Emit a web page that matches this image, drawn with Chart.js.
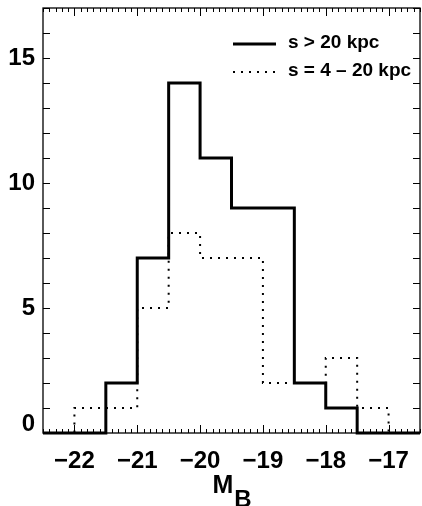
<!DOCTYPE html>
<html><head><meta charset="utf-8">
<script src="https://cdn.jsdelivr.net/npm/chart.js@4/dist/chart.umd.min.js"></script>
<style>html,body{margin:0;padding:0;background:#fff}#wrap{width:422px;height:506px;position:relative}</style>
</head><body><div id="wrap"><canvas id="c" width="422" height="506"></canvas></div>
<script>
// Histogram bin edges (M_B) and counts per bin
const binEdges = [-22.5,-22,-21.5,-21,-20.5,-20,-19.5,-19,-18.5,-18,-17.5,-17,-16.5];
const countsFar  = [0,0,2,7,14,11,9,9,2,1,0,0];   // s > 20 kpc
const countsNear = [0,1,1,5,8,7,7,2,2,3,1,0];     // s = 4 - 20 kpc
const seriesLabels = ['s > 20 kpc', 's = 4 \u2013 20 kpc'];
const xTickValues = [-22,-21,-20,-19,-18,-17];
const yTickValues = [0,5,10,15];
const xRange = [-22.5,-16.5];
const yRange = [0,17];
const xTitleMain = 'M', xTitleSub = 'B';

function stepPoints(counts){
  const pts = counts.map((c,i)=>({x:binEdges[i], y:c}));
  pts.push({x:binEdges[binEdges.length-1], y:counts[counts.length-1]});
  return pts;
}
const FONT = "'Liberation Sans', Arial, Helvetica, sans-serif";

const framePlugin = {
  id:'frame',
  afterDatasetsDraw(chart){
    const {ctx, chartArea:a, scales:{x,y}} = chart;
    ctx.save();
    ctx.strokeStyle = '#000';
    ctx.lineWidth = 1.3;
    ctx.strokeRect(a.left, a.top, a.right-a.left, a.bottom-a.top);
    ctx.lineWidth = 1;
    ctx.beginPath();
    // x minor/major ticks (0.1 step), bottom and top, pointing inward
    for (let k = Math.round(xRange[0]*10); k <= Math.round(xRange[1]*10); k++){
      const v = k/10, px = Math.round(x.getPixelForValue(v))+0.5;
      const len = (k%10===0) ? 8 : 4;
      ctx.moveTo(px, a.bottom); ctx.lineTo(px, a.bottom-len);
      ctx.moveTo(px, a.top); ctx.lineTo(px, a.top+len);
    }
    // y ticks every 1 unit, left and right
    for (let v = yRange[0]; v <= yRange[1]; v++){
      const py = Math.round(y.getPixelForValue(v))+0.5;
      ctx.moveTo(a.left, py); ctx.lineTo(a.left+7, py);
      ctx.moveTo(a.right, py); ctx.lineTo(a.right-7, py);
    }
    ctx.stroke();
    // legend
    const ys = [44, 72];
    chart.data.datasets.forEach((ds,i)=>{
      ctx.beginPath();
      ctx.lineWidth = ds.borderWidth;
      ctx.setLineDash(ds.borderDash || []);
      ctx.strokeStyle = ds.borderColor;
      ctx.moveTo(233, ys[i]); ctx.lineTo(276, ys[i]);
      ctx.stroke();
      ctx.setLineDash([]);
      ctx.fillStyle = '#000';
      ctx.font = 'bold 19px ' + FONT;
      ctx.textBaseline = 'alphabetic';
      ctx.textAlign = 'left';
      ctx.fillText(ds.label, 288, ys[i]+4);
    });
    // x-axis title with subscript
    ctx.font = 'bold 25px ' + FONT;
    ctx.textAlign = 'left';
    const mw = ctx.measureText(xTitleMain).width;
    ctx.font = 'bold 24px ' + FONT;
    const bw = ctx.measureText(xTitleSub).width;
    const cx = (a.left + a.right)/2;
    const startX = cx - (mw + bw)/2;
    ctx.font = 'bold 25px ' + FONT;
    ctx.fillText(xTitleMain, startX, 493);
    ctx.font = 'bold 24px ' + FONT;
    ctx.fillText(xTitleSub, startX + mw + 1, 507);
    ctx.restore();
  }
};

new Chart(document.getElementById('c'), {
  type:'line',
  data:{
    datasets:[
      {label:seriesLabels[0], data:stepPoints(countsFar), stepped:'before',
       borderColor:'#000', borderWidth:3, pointRadius:0, fill:false, clip:6, order:0},
      {label:seriesLabels[1], data:stepPoints(countsNear), stepped:'before',
       borderColor:'#000', borderWidth:2, borderDash:[2,6], borderCapStyle:'butt',
       pointRadius:0, fill:false, clip:6, order:1}
    ]
  },
  options:{
    responsive:false, animation:false, events:[],
    layout:{padding:{top:8,right:2,left:0,bottom:0}},
    plugins:{legend:{display:false}, tooltip:{enabled:false}},
    scales:{
      x:{type:'linear', min:xRange[0], max:xRange[1],
         border:{display:false}, grid:{display:false, drawTicks:false, tickLength:0},
         afterFit(s){ s.height = 73; s.paddingLeft = 0; s.paddingRight = 0; },
         afterBuildTicks(s){ s.ticks = xTickValues.map(v=>({value:v})); },
         ticks:{color:'#000', padding:14, maxRotation:0, autoSkip:false,
           font:{family:FONT, size:24, weight:'bold'},
           callback:(v)=> (v<0?'\u2212':'') + Math.abs(v)}
      },
      y:{type:'linear', min:yRange[0], max:yRange[1],
         border:{display:false}, grid:{display:false, drawTicks:false, tickLength:0},
         afterFit(s){ s.width = 43; s.paddingTop = 0; s.paddingBottom = 0; },
         afterBuildTicks(s){ s.ticks = yTickValues.map(v=>({value:v})); },
         ticks:{color:'#000', padding:8, autoSkip:false,
           font:(c)=>({family:FONT, size:24, weight:'bold', lineHeight: (c.tick && c.tick.value===0) ? '18px' : 1.2}),
           callback:(v)=> v===0 ? ['0',''] : String(v)}
      }
    }
  },
  plugins:[framePlugin]
});
</script>
</body></html>
